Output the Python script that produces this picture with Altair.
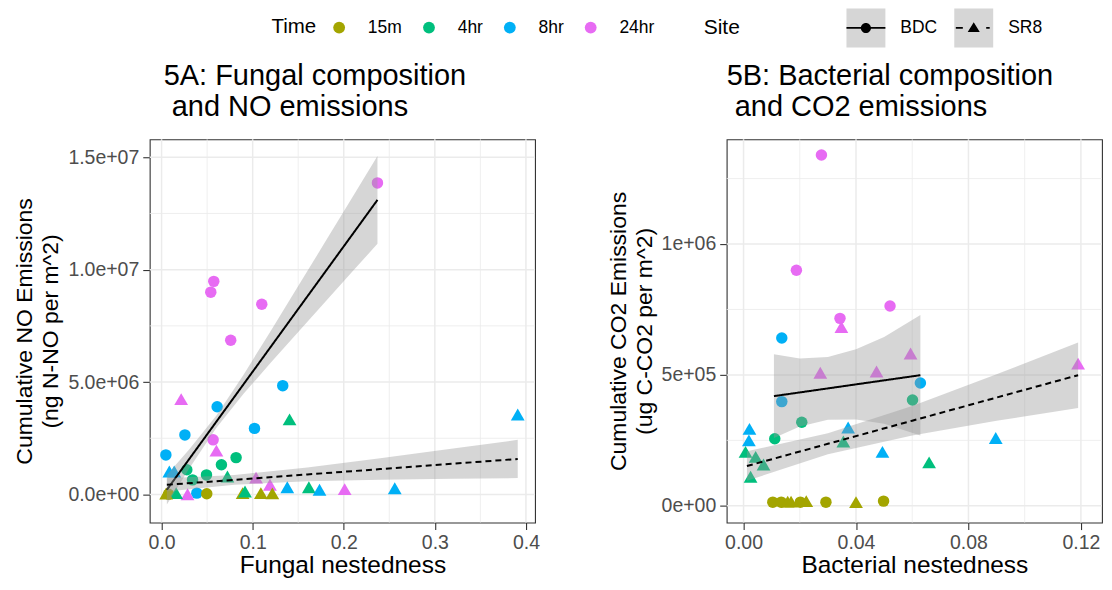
import altair as alt
import pandas as pd

FONT = "Liberation Sans"

time_levels = ["15m", "4hr", "8hr", "24hr"]
time_colors = ["#A3A500", "#00BF7D", "#00B0F6", "#E76BF3"]
sites = ["BDC", "SR8"]

# ---------------- Panel 5A : fungal nestedness vs cumulative NO ----------------
a_bdc_x = [0.237, 0.0573, 0.054, 0.110, 0.0759, 0.0566, 0.133, 0.061, 0.0256, 0.102,
           0.0047, 0.0387, 0.0818, 0.0657, 0.0277, 0.0493, 0.034, 0.0077, 0.0496]
a_bdc_y = [1.386e7, 9.48e6, 9.0e6, 8.46e6, 6.86e6, 2.43e6, 4.84e6, 3.9e6, 2.65e6, 2.94e6,
           1.76e6, 6e4, 1.64e6, 1.32e6, 1.1e6, 8.7e5, 6.5e5, 1e4, 3e4]
a_bdc_t = ["24hr", "24hr", "24hr", "24hr", "24hr", "24hr", "8hr", "8hr", "8hr", "8hr",
           "8hr", "8hr", "4hr", "4hr", "4hr", "4hr", "4hr", "15m", "15m"]

a_sr8_x = [0.391, 0.1405, 0.0215, 0.0602, 0.0085, 0.0139, 0.0723, 0.1037, 0.119, 0.138,
           0.1617, 0.1734, 0.201, 0.256, 0.089, 0.109, 0.1216, 0.0916, 0.0285, 0.016, 0.005]
a_sr8_y = [3.56e6, 3.34e6, 4.24e6, 1.95e6, 1.02e6, 1.02e6, 8e5, 7.5e5, 4.3e5, 3.2e5,
           3.2e5, 2.1e5, 2.4e5, 2.8e5, 6e4, 6e4, 5e4, 1.3e5, 1e4, 6e4, 4e4]
a_sr8_t = ["8hr", "4hr", "24hr", "24hr", "8hr", "8hr", "4hr", "24hr", "24hr", "8hr",
           "4hr", "8hr", "24hr", "8hr", "15m", "15m", "15m", "4hr", "24hr", "4hr", "15m"]

# fitted lines and confidence bands
a_bdc_fx = [0.0058, 0.03, 0.06, 0.09, 0.12, 0.15, 0.18, 0.21, 0.237]
a_bdc_fit = [2.09e5, 1.558e6, 3.231e6, 4.904e6, 6.577e6, 8.25e6, 9.922e6, 1.1595e7, 1.3101e7]
a_bdc_lo = [-4.43e5, 1.131e6, 2.957e6, 4.477e6, 5.868e6, 7.231e6, 8.585e6, 9.936e6, 1.1151e7]
a_bdc_hi = [8.61e5, 1.985e6, 3.505e6, 5.331e6, 7.286e6, 9.269e6, 1.1259e7, 1.3254e7, 1.5051e7]

a_sr8_fx = [0.0058, 0.08, 0.16, 0.24, 0.32, 0.391]
a_sr8_fit = [4.3e5, 6.515e5, 8.903e5, 1.1291e6, 1.3679e6, 1.58e6]
a_sr8_lo = [1.36e5, 4.315e5, 5.853e5, 6.521e5, 6.959e5, 7.29e5]
a_sr8_hi = [7.24e5, 8.715e5, 1.1953e6, 1.6061e6, 2.0399e6, 2.431e6]

a_x_major = [0.0, 0.1, 0.2, 0.3, 0.4]
a_x_minor = [0.05, 0.15, 0.25, 0.35]
a_y_major = [0, 5000000, 10000000, 15000000]
a_y_minor = [2500000, 7500000, 12500000]
a_y_labels = ["0.0e+00", "5.0e+06", "1.0e+07", "1.5e+07"]

# ---------------- Panel 5B : bacterial nestedness vs cumulative CO2 ----------------
b_bdc_x = [0.0277, 0.0188, 0.0521, 0.0343, 0.0136, 0.0629, 0.0136, 0.0601, 0.0207, 0.0111,
           0.0104, 0.0134, 0.0202, 0.0293, 0.0498]
b_bdc_y = [1.34e6, 9.0e5, 7.63e5, 7.16e5, 6.41e5, 4.69e5, 3.98e5, 4.04e5, 3.19e5, 2.56e5,
           1.4e4, 1.4e4, 1.4e4, 1.4e4, 1.8e4]
b_bdc_t = ["24hr", "24hr", "24hr", "24hr", "8hr", "8hr", "8hr", "4hr", "4hr", "4hr",
           "15m", "15m", "15m", "15m", "15m"]

b_sr8_x = [0.119, 0.0594, 0.0348, 0.0273, 0.0473, 0.0372, 0.0355, 0.0494, 0.0897, 0.066,
           0.0021, 0.0019, 0.0007, 0.0043, 0.0071, 0.0025, 0.0157, 0.0169, 0.0223, 0.040]
b_sr8_y = [5.43e5, 5.82e5, 6.83e5, 5.08e5, 5.13e5, 2.99e5, 2.46e5, 2.06e5, 2.59e5, 1.66e5,
           2.94e5, 2.5e5, 2.06e5, 1.87e5, 1.58e5, 1.11e5, 1.6e4, 1.6e4, 1.8e4, 1.4e4]
b_sr8_t = ["24hr", "24hr", "24hr", "24hr", "24hr", "8hr", "4hr", "8hr", "8hr", "4hr",
           "8hr", "8hr", "4hr", "4hr", "4hr", "4hr", "15m", "15m", "15m", "15m"]

b_bdc_fx = [0.0108, 0.02, 0.03, 0.04, 0.05, 0.0629]
b_bdc_fit = [4.19e5, 4.331e5, 4.485e5, 4.639e5, 4.792e5, 4.99e5]
b_bdc_lo = [2.59e5, 3.031e5, 3.285e5, 3.299e5, 3.132e5, 2.69e5]
b_bdc_hi = [5.79e5, 5.631e5, 5.685e5, 5.979e5, 6.452e5, 7.29e5]

b_sr8_fx = [0.0012, 0.03, 0.06, 0.09, 0.119]
b_sr8_fit = [1.52e5, 2.368e5, 3.252e5, 4.136e5, 4.99e5]
b_sr8_lo = [9.6e4, 1.968e5, 2.687e5, 3.246e5, 3.74e5]
b_sr8_hi = [2.08e5, 2.768e5, 3.817e5, 5.026e5, 6.24e5]

b_x_major = [0.0, 0.04, 0.08, 0.12]
b_x_minor = [0.02, 0.06, 0.10]
b_y_major = [0, 500000, 1000000]
b_y_minor = [250000, 750000, 1250000]
b_y_labels = ["0e+00", "5e+05", "1e+06"]

# legend key glyphs (line through symbol, as in the ggplot keys), drawn as filled shapes
BDC_KEY = ("M-1,-0.045H1V0.045H-1Z"
           "M-0.26,0A0.26,0.26,0,1,1,0.26,0A0.26,0.26,0,1,1,-0.26,0Z")
SR8_KEY = ("M-0.92,-0.045H-0.56V0.045H-0.92Z"
           "M0.64,-0.045H0.82V0.045H0.64Z"
           "M0,-0.3L0.31,0.21L-0.31,0.21Z")
box_keys = ["BDC_", "SR8_"]

# legend placement (relative to the left panel's plot origin)
LEG_Y = -131
TIME_X = 122
SITE_X = 555
SITE_TITLE_W = 37 + 106   # width of the "Site" title plus its padding


def pts_df(bx, by, bt, sx, sy, st):
    return pd.DataFrame({
        "x": bx + sx, "y": by + sy, "time": bt + st,
        "site": ["BDC"] * len(bx) + ["SR8"] * len(sx)})


def fit_df(fx, fit, lo, hi):
    return pd.DataFrame({"x": fx, "fit": fit, "lo": lo, "hi": hi})


def label_expr(vals, labels):
    return ("[" + ",".join("'%s'" % l for l in labels) + "][indexof(["
            + ",".join(str(v) for v in vals) + "], datum.value)]")


color_legend = alt.Legend(
    title="Time", orient="none", legendX=TIME_X, legendY=LEG_Y + 10,
    direction="horizontal", titleOrient="left", titleAnchor="middle", titleBaseline="middle",
    symbolType="circle", symbolSize=140, symbolStrokeWidth=0, symbolOpacity=1,
    labelFontSize=17.5, labelColor="black", titleFontSize=20.5, titleFontWeight="normal",
    titleColor="black", labelOffset=20, columnPadding=18, titlePadding=14)


def make_panel(pts, fb, fs, xdom, ydom, xmaj, xmin, ymaj, ymin, ylabels, xfmt,
               xtitle, ytitle, title, title_dx, width, height, legends):
    xs = alt.Scale(domain=xdom, nice=False, zero=False)
    ys = alt.Scale(domain=ydom, nice=False, zero=False)

    xaxis = alt.Axis(values=xmaj, format=xfmt, title=xtitle, grid=False, domain=False,
                     tickColor="#333333", tickSize=7, tickWidth=1.1,
                     labelColor="#4D4D4D", labelFontSize=19.5, labelPadding=4,
                     titleFontSize=24.5, titleFontWeight="normal", titleColor="black",
                     titlePadding=2)
    yaxis = alt.Axis(values=ymaj, labelExpr=label_expr(ymaj, ylabels), title=ytitle,
                     grid=False, domain=False, tickColor="#333333", tickSize=7,
                     tickWidth=1.1, labelColor="#4D4D4D", labelFontSize=19.5,
                     labelPadding=4, titleFontSize=23, titleFontWeight="normal",
                     titleColor="black", titlePadding=5, titleLineHeight=26)

    def X(f):
        return alt.X(f, scale=xs, axis=xaxis)

    def Y(f):
        return alt.Y(f, scale=ys, axis=yaxis)

    def vgrid(vals, w):
        return alt.Chart(pd.DataFrame({"v": vals})).mark_rule(
            color="#EBEBEB", strokeWidth=w).encode(x=X("v:Q"))

    def hgrid(vals, w):
        return alt.Chart(pd.DataFrame({"v": vals})).mark_rule(
            color="#EBEBEB", strokeWidth=w).encode(y=Y("v:Q"))

    color = alt.Color("time:N", scale=alt.Scale(domain=time_levels, range=time_colors),
                      legend=color_legend)

    circles = alt.Chart(pts[pts.site == "BDC"]).mark_point(
        shape="circle", filled=True, size=132, opacity=1).encode(
        x=X("x:Q"), y=Y("y:Q"), color=color)
    triangles = alt.Chart(pts[pts.site == "SR8"]).mark_point(
        shape="triangle-up", filled=True, size=190, opacity=1).encode(
        x=X("x:Q"), y=Y("y:Q"), color=color)

    def band(df):
        return alt.Chart(df).mark_area(color="#999999", opacity=0.4).encode(
            x=X("x:Q"), y=Y("lo:Q"), y2="hi:Q")

    def line(df, dash):
        return alt.Chart(df).mark_line(color="black", strokeWidth=2,
                                       strokeDash=dash).encode(x=X("x:Q"), y=Y("fit:Q"))

    layers = [vgrid(xmin, 0.8), hgrid(ymin, 0.8), vgrid(xmaj, 1.5), hgrid(ymaj, 1.5),
              circles, triangles,
              band(fb), line(fb, [1, 0]), band(fs), line(fs, [6, 4])]

    if legends:
        common = dict(orient="none", legendY=LEG_Y, direction="horizontal",
                      symbolSize=1521, symbolStrokeWidth=0, symbolOpacity=1,
                      labelFontSize=17.5, labelOffset=15, columnPadding=17)
        box_layer = alt.Chart(pd.DataFrame({"k": box_keys})).mark_point(
            filled=True, opacity=0, shape="square").encode(
            fill=alt.Fill("k:N", scale=alt.Scale(domain=box_keys,
                                                 range=["#D6D6D6", "#D6D6D6"]),
                          legend=alt.Legend(
                              title="Site", legendX=SITE_X, symbolType="square",
                              titleOrient="left", titleAnchor="middle",
                              titleBaseline="middle", titleFontSize=21,
                              titleFontWeight="normal", titlePadding=106,
                              titleColor="black", labelColor="transparent",
                              labelExpr="replace(datum.label, '_', '')",
                              zindex=1, **common)))
        site_layer = alt.Chart(pd.DataFrame({"s": sites})).mark_point(
            filled=True, opacity=0, color="black").encode(
            shape=alt.Shape("s:N", scale=alt.Scale(domain=sites, range=[BDC_KEY, SR8_KEY]),
                            legend=alt.Legend(
                                title=None, legendX=SITE_X + SITE_TITLE_W,
                                symbolFillColor="black", labelColor="black",
                                zindex=2, **common)))
        layers += [box_layer, site_layer]

    return alt.layer(*layers).properties(
        width=width, height=height,
        title=alt.TitleParams(text=title, anchor="start", frame="group", fontSize=29,
                              fontWeight="normal", color="black", dx=title_dx,
                              offset=17, lineHeight=31))


panel_a = make_panel(
    pts_df(a_bdc_x, a_bdc_y, a_bdc_t, a_sr8_x, a_sr8_y, a_sr8_t),
    fit_df(a_bdc_fx, a_bdc_fit, a_bdc_lo, a_bdc_hi),
    fit_df(a_sr8_fx, a_sr8_fit, a_sr8_lo, a_sr8_hi),
    [-0.013, 0.41], [-1.25e6, 1.58e7], a_x_major, a_x_minor, a_y_major, a_y_minor,
    a_y_labels, ".1f", "Fungal nestedness",
    ["Cumulative NO Emissions", "(ng N-NO per m^2)"],
    ["5A: Fungal composition", "\u200b\u00a0and NO emissions"], 14, 386, 384, True)

panel_b = make_panel(
    pts_df(b_bdc_x, b_bdc_y, b_bdc_t, b_sr8_x, b_sr8_y, b_sr8_t),
    fit_df(b_bdc_fx, b_bdc_fit, b_bdc_lo, b_bdc_hi),
    fit_df(b_sr8_fx, b_sr8_fit, b_sr8_lo, b_sr8_hi),
    [-0.006, 0.1275], [-6.4e4, 1.40e6], b_x_major, b_x_minor, b_y_major, b_y_minor,
    b_y_labels, ".2f", "Bacterial nestedness",
    ["Cumulative CO2 Emissions", "(ug C-CO2 per m^2)"],
    ["5B: Bacterial composition", "\u200b\u00a0and CO2 emissions"], 0, 376, 384, False)

chart = alt.hconcat(panel_a, panel_b, spacing=66).properties(
    padding={"left": 5, "top": 0, "right": 0, "bottom": 0}
).configure(font=FONT).configure_view(stroke="#333333", strokeWidth=1.1)

chart.save("out.html", embed_options={"renderer": "svg", "actions": False})
